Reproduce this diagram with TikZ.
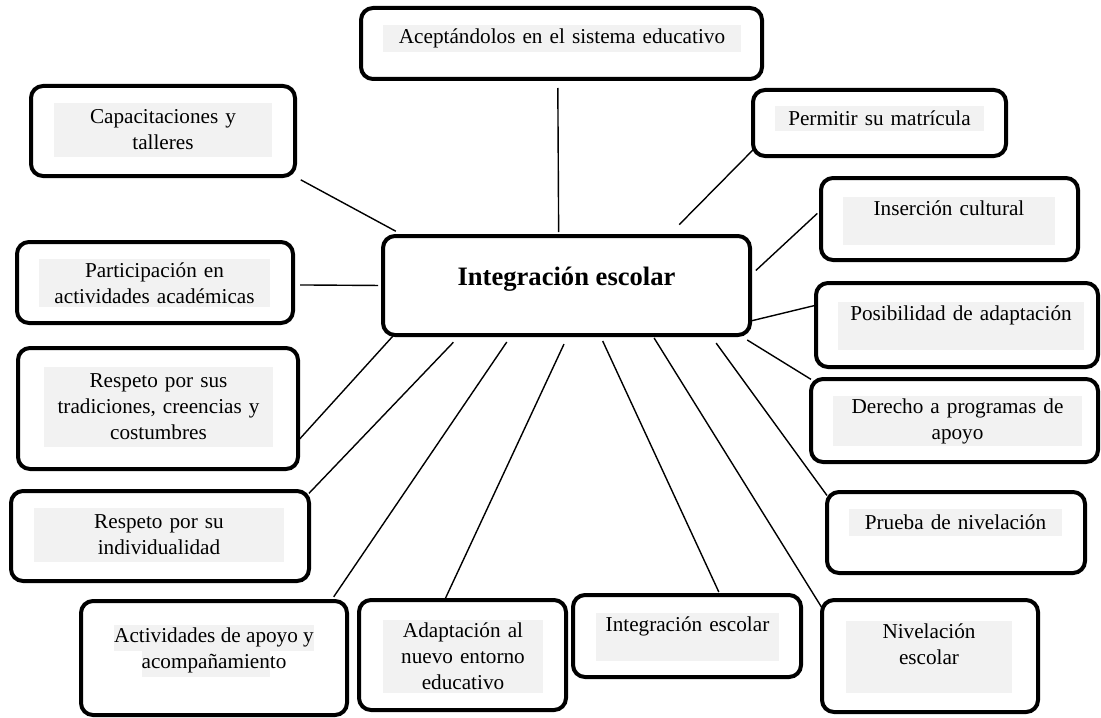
\documentclass[tikz,border=0pt]{standalone}
\usepackage{fontspec}
\setmainfont{Liberation Serif}
\usepackage{tikz}
\usetikzlibrary{backgrounds,positioning}
\definecolor{txtgray}{RGB}{242,242,242}
\newcommand\normsize{\fontsize{10.6}{13}\selectfont}
\newcommand\bigsize{\fontsize{13.3}{16}\selectfont\bfseries}
\setlength{\fboxsep}{0pt}

\begin{document}
\begin{tikzpicture}[x=0.5pt,y=-0.5pt,
  bubble/.style={draw, line width=2pt, rounded corners=6pt, inner sep=0pt, outer sep=0pt},
  txtbg/.style={fill=txtgray, align=center, inner sep=0pt, font=\normsize},
  spoke/.style={draw, line width=0.7pt}]
\useasboundingbox (0,0) rectangle (1101,717);
% central box
\node[bubble, minimum width=183.5pt, minimum height=49.5pt, font=\bigsize, text height=6pt, text depth=6pt] (cen) at (566.5,285.5) {Integración escolar};
% top and left boxes
\node[bubble, minimum width=200.5pt, minimum height=35.5pt] (acep) at (561.5,43.5) {};
\node[txtbg, text width=179pt, minimum height=13.5pt] (acepT) at (562,38.5) {Aceptándolos en el sistema educativo};
\node[bubble, minimum width=132pt, minimum height=45pt] (capa) at (163,131) {};
\node[txtbg, text width=109pt, minimum height=27pt] (capaT) at (163,130) {Capacitaciones y\\talleres};
\node[bubble, minimum width=138pt, minimum height=40.5pt] (part) at (155,282.5) {};
\node[txtbg, text width=115.5pt, minimum height=24pt] (partT) at (154.5,283) {Participación en\\actividades académicas};
\node[bubble, minimum width=140pt, minimum height=60.5pt] (trad) at (158,408.5) {};
\node[txtbg, text width=114.5pt, minimum height=40pt] (tradT) at (158.5,407) {Respeto por sus\\tradiciones, creencias y\\costumbres};
\node[bubble, minimum width=149pt, minimum height=45pt] (ind) at (160,536) {};
\node[txtbg, text width=125pt, minimum height=27pt] (indT) at (159,535) {Respeto por su\\individualidad};
% right boxes
\node[bubble, minimum width=126.5pt, minimum height=33pt] (perm) at (879.5,123) {};
\node[txtbg, text width=104.5pt, minimum height=12.5pt] (permT) at (879.5,118.5) {Permitir su matrícula};
\node[bubble, minimum width=128.5pt, minimum height=41pt] (ins) at (949.5,219) {};
\node[txtbg, text width=106pt, minimum height=24pt] (insT) at (949,221) {Inserción cultural\\\mbox{}};
\node[bubble, minimum width=141pt, minimum height=42pt] (pos) at (957,325) {};
\node[txtbg, text width=123pt, minimum height=24pt] (posT) at (961,326) {Posibilidad de adaptación\\\mbox{}};
\node[bubble, minimum width=143.5pt, minimum height=41.5pt] (der) at (954.5,420.5) {};
\node[txtbg, text width=124.5pt, minimum height=25pt] (derT) at (957.5,421) {Derecho a programas de\\apoyo};
\node[bubble, minimum width=129pt, minimum height=40.5pt] (prue) at (956,532.5) {};
\node[txtbg, text width=106.5pt, minimum height=13.5pt] (prueT) at (955.5,522.5) {Prueba de nivelación};
% bottom boxes
\node[bubble, minimum width=133pt, minimum height=57pt] (act) at (214,658) {};
\node[font=\normsize, align=center, inner sep=0pt] (actT) at (214,650.5) {\colorbox{txtgray}{\strut Actividades de apoyo y}\\\colorbox{txtgray}{\strut acompañamien}to};
\node[bubble, minimum width=103.5pt, minimum height=55pt] (adap) at (462.5,655) {};
\node[txtbg, text width=80pt, minimum height=36.5pt] (adapT) at (463,656.5) {Adaptación al\\nuevo entorno\\educativo};
\node[bubble, minimum width=114pt, minimum height=41pt] (intb) at (687,636) {};
\node[txtbg, text width=91.5pt, minimum height=24pt] (intbT) at (687.5,637) {Integración escolar\\\mbox{}};
\node[bubble, minimum width=108pt, minimum height=56pt] (niv) at (930,656) {};
\node[txtbg, text width=83pt, minimum height=36pt] (nivT) at (929,657) {Nivelación\\escolar\\\mbox{}};
% spokes
\begin{scope}[on background layer]
\path [spoke, shorten <=2pt, shorten >=4.5pt] (cen.99.7) -- (acep.264.4);
\path [spoke, shorten <=5pt, shorten >=4pt] (cen.163.6) -- (capa.341.6);
\path [spoke, shorten <=2.5pt, shorten >=3.5pt] (cen.180.5) -- (part.-1.9);
\path [spoke, shorten <=0pt, shorten >=1.25pt] (cen.196.1) -- (trad.-13.1);
\path [spoke, shorten <=5pt] (cen.205.8) -- (ind.16.1);
\path [spoke, shorten <=4.25pt, shorten >=2.5pt] (cen.222.7) -- (act.26.9);
\path [spoke, shorten <=5pt, shorten >=1pt] (cen.-88) -- (adap.108.5);
\path [spoke, shorten <=3.3pt, shorten >=1.65pt] (cen.-56.6) -- (intb.51.7);
\path [spoke, shorten <=1.75pt] (cen.-30.3) -- (niv.156);
\path [spoke, shorten <=5pt] (cen.-19.4) -- (prue.164.6);
\path [spoke, shorten <=4.75pt] (cen.-16) -- (der.164);
\path [spoke] (cen.-11.5) -- (pos.172.6);
\path [spoke, shorten <=4pt, shorten >=2.5pt] (cen.3.5) -- (ins.176.7);
\path [spoke, shorten <=8pt] (cen.26.3) -- (perm.192.9);
\end{scope}
\end{tikzpicture}
\end{document}
